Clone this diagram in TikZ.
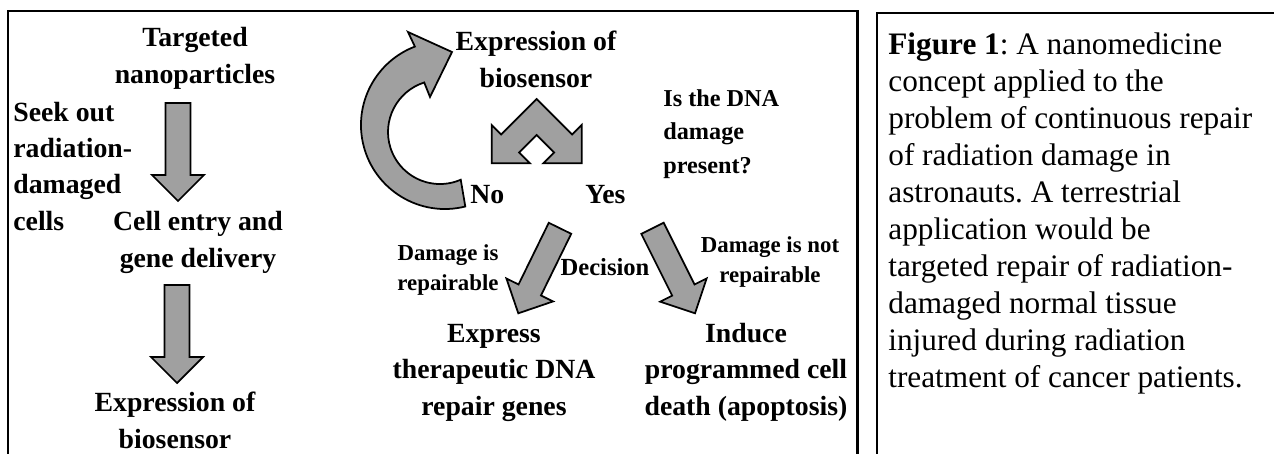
\documentclass[tikz,border=0pt]{standalone}
\usepackage{fontspec}
\setmainfont{Liberation Serif}
\usetikzlibrary{calc,positioning}
\definecolor{arrowgray}{HTML}{A0A0A0}
\frenchspacing

% fat gray arrow from a tail coordinate to a tip coordinate
\newcommand{\fatarrow}[2]{%
  \coordinate (neck) at ($(#2)!0.52cm!(#1)$);
  \filldraw[blockarrow] ($(#1)!0.25cm!90:(#2)$) -- ($(neck)!0.25cm!90:(#2)$)
    -- ($(neck)!0.52cm!90:(#2)$) -- (#2) -- ($(neck)!0.52cm!-90:(#2)$)
    -- ($(neck)!0.25cm!-90:(#2)$) -- ($(#1)!0.25cm!-90:(#2)$) -- cycle;}

\begin{document}
\begin{tikzpicture}[x=0.02cm, y=0.02cm,
    steptext/.style={font=\bfseries\fontsize{15.8}{20.5}\selectfont,
      align=center, inner sep=0pt, anchor=base},
    questtext/.style={font=\bfseries\fontsize{13.8}{18.8}\selectfont,
      align=left, inner sep=0pt, anchor=base west},
    branchtext/.style={font=\bfseries\fontsize{13}{16.8}\selectfont,
      align=center, inner sep=0pt, anchor=base},
    captiontext/.style={font=\fontsize{17.8}{21.05}\selectfont,
      align=left, inner sep=0pt, anchor=base west},
    blockarrow/.style={fill=arrowgray, draw=black, line width=1pt},
    panel/.style={draw=black, line width=1.7pt}
  ]
  \useasboundingbox (0,0) rectangle (1274,-453);
  \clip (0,0) rectangle (1274,-453);

  % panels
  \draw[panel] (8,-480) -- (8,-11) -- (857,-11) -- (857,-480);
  \draw[panel, line width=1.1pt] (877,-480) -- (877,-13) -- (1290,-13);

  % left column (base = last line)
  \node[steptext] (nano) at (195,-83) {Targeted\\nanoparticles};
  \node[steptext, anchor=base west, align=left] (seek) at (13,-230)
    {Seek out\\radiation-\\damaged\\cells};
  \node[steptext] (entry) at (198,-267) {Cell entry and\\gene delivery};
  \node[steptext] (sensl) at (175,-448) {Expression of\\biosensor};

  \coordinate (a1t) at (178,-103);
  \coordinate (a1h) at (178,-201);
  \coordinate (a2t) at (177,-285);
  \coordinate (a2h) at (177,-383);
  \fatarrow{a1t}{a1h}
  \fatarrow{a2t}{a2h}

  % loop part
  \node[steptext] (sensm) at (536,-87) {Expression of\\biosensor};
  \node[questtext] (quest) at (663,-173) {Is the DNA\\damage\\present?};
  \node[steptext, anchor=base west] (no) at (470,-203) {No};
  \node[steptext, anchor=base west] (yes) at (585,-203) {Yes};

  \filldraw[blockarrow] (465.3,-206.5) arc[start angle=284, end angle=111, radius=84]
    -- (408,-32) -- (452,-52) -- (430,-97) -- (424.2,-82.5)
    arc[start angle=107.7, end angle=293.5, radius=52] -- cycle;

  \filldraw[blockarrow] (536.7,-99) -- (501.2,-134.5) -- (491.7,-125)
    -- (491.7,-163.3) -- (530,-163.3) -- (519.2,-152.5) -- (536.7,-135)
    -- (554.2,-152.5) -- (543.3,-163.3) -- (581.7,-163.3) -- (581.7,-125)
    -- (572.2,-134.5) -- cycle;

  % decision
  \node[branchtext] (repok) at (448,-290) {Damage is\\repairable};
  \node[branchtext, font=\bfseries\fontsize{14}{17}\selectfont] (decide) at (605,-275) {Decision};
  \node[branchtext] (repnot) at (770,-282) {Damage is not\\repairable};
  \node[steptext] (express) at (494,-415) {Express\\therapeutic DNA\\repair genes};
  \node[steptext] (induce) at (746,-415) {Induce\\programmed cell\\death (apoptosis)};

  \coordinate (b1t) at (560,-228.3);
  \coordinate (b1h) at (518.3,-313.3);
  \coordinate (b2t) at (652.5,-228.3);
  \coordinate (b2h) at (695,-313.3);
  \fatarrow{b1t}{b1h}
  \fatarrow{b2t}{b2h}

  % caption
  \node[captiontext] (caption) at (888,-387) {\textbf{Figure 1}: A nanomedicine\\
    concept applied to the\\problem of continuous repair\\of radiation damage in\\
    astronauts. A terrestrial\\application would be\\targeted repair of radiation-\\
    damaged normal tissue\\injured during radiation\\treatment of cancer patients.};
\end{tikzpicture}
\end{document}
